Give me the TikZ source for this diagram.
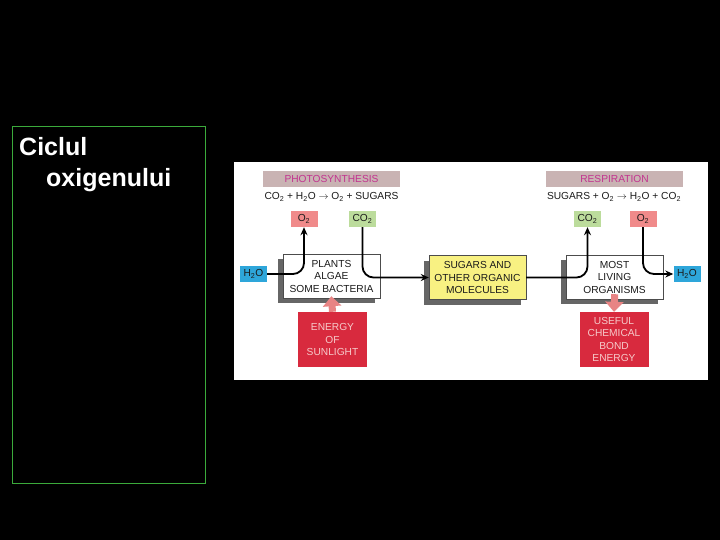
\documentclass[tikz,border=0pt]{standalone}
\usepackage{fontspec}
\setmainfont{Liberation Sans}
\usetikzlibrary{arrows.meta,shadows}
\definecolor{stagebar}{HTML}{C9B3B3}
\definecolor{stagetext}{HTML}{C2338F}
\definecolor{oxy}{HTML}{F08A8A}
\definecolor{carbon}{HTML}{BCDC9C}
\definecolor{water}{HTML}{2EA6DA}
\definecolor{sugar}{HTML}{F8F182}
\definecolor{energy}{HTML}{D82A3E}
\definecolor{energytext}{HTML}{F6CACA}
\definecolor{beam}{HTML}{E88484}
\definecolor{ink}{HTML}{1A1A1A}
\definecolor{frame}{HTML}{3BAA3B}

\begin{document}
\begin{tikzpicture}[x=1pt,y=-1pt,font=\fontsize{10.2}{12.5}\selectfont,text=ink,
  stage/.style={fill=stagebar,text=stagetext,minimum width=137pt,minimum height=16pt,inner sep=0pt},
  chem/.style={fill=#1,minimum width=27pt,minimum height=16pt,inner sep=0pt},
  organism/.style={draw=black!70,fill=#1,align=center,minimum width=97pt,minimum height=44pt,inner sep=2pt,
    general shadow={fill=black!60,shadow xshift=-5pt,shadow yshift=-5pt}},
  gift/.style={fill=energy,text=energytext,align=center,minimum width=69pt,minimum height=55pt,inner sep=1pt},
  flow/.style={-{Stealth[length=8pt,width=7pt]},line width=1.8pt,rounded corners=11pt},
  beamarrow/.style={-{Triangle[width=18pt,length=10pt]},line width=7pt,beam}]
  \useasboundingbox[fill=black] (0,0) rectangle (720,540);
  \draw[frame,line width=0.8pt] (12.5,126.5) rectangle (205,483);
  \node[anchor=base west,text=white,font=\bfseries\fontsize{25}{31}\selectfont,align=left,inner sep=0pt] (title) at (19,187)
    {Ciclul\\\hspace*{27pt}oxigenului};
  \fill[white] (234,162) rectangle (708,380);

  % photosynthesis side
  \node[stage] (photo) at (331.5,179) {PHOTOSYNTHESIS};
  \node (eqphoto) at (331.5,197) {CO\textsubscript{2} + H\textsubscript{2}O $\rightarrow$ O\textsubscript{2} + SUGARS};
  \node[chem=oxy] (o2in) at (304,219) {O\textsubscript{2}};
  \node[chem=carbon] (co2in) at (362.5,219) {CO\textsubscript{2}};
  \node[chem=water] (h2oin) at (253.5,274) {H\textsubscript{2}O};
  \node[organism=white] (plants) at (331.5,276) {PLANTS\\ALGAE\\SOME BACTERIA};
  \node[gift] (sunlight) at (332.5,339.5) {ENERGY\\OF\\SUNLIGHT};

  % middle
  \node[organism=sugar] (sugars) at (477.5,277.5) {SUGARS AND\\OTHER ORGANIC\\MOLECULES};

  % respiration side
  \node[stage] (resp) at (614.5,179) {RESPIRATION};
  \node (eqresp) at (614,197) {SUGARS + O\textsubscript{2} $\rightarrow$ H\textsubscript{2}O + CO\textsubscript{2}};
  \node[chem=carbon] (co2out) at (587.5,219) {CO\textsubscript{2}};
  \node[chem=oxy] (o2out) at (643,219) {O\textsubscript{2}};
  \node[organism=white] (living) at (614.5,277) {MOST\\LIVING\\ORGANISMS};
  \node[chem=water] (h2oout) at (687,274) {H\textsubscript{2}O};
  \node[gift] (bond) at (614,339.5) {USEFUL\\CHEMICAL\\BOND\\ENERGY};

  \draw[flow] (h2oin.east) -- (o2in.south |- h2oin.east) -- (o2in.south);
  \draw[flow] (co2in.south) -- (co2in.south |- sugars.west) -- (sugars.west);
  \draw[flow] (sugars.east) -- (co2out.south |- sugars.east) -- (co2out.south);
  \draw[flow] (o2out.south) -- (o2out.south |- h2oout.west) -- (h2oout.west);
  \draw[beamarrow,shorten >=-2pt] (sunlight.north) -- (plants.south);
  \draw[beamarrow,shorten <=-5pt] (living.south) -- (bond.north);
\end{tikzpicture}
\end{document}
